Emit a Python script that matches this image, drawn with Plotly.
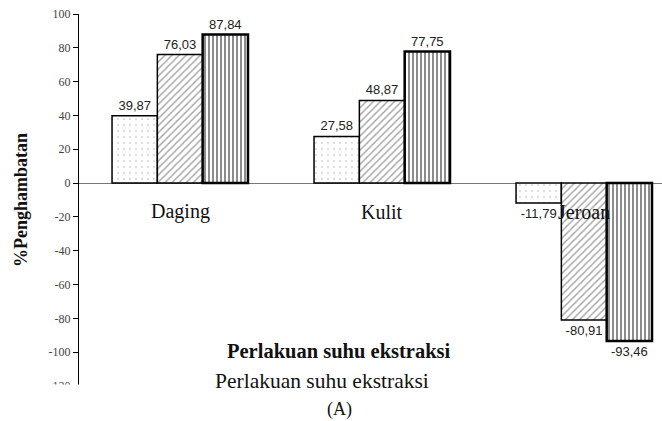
import plotly.graph_objects as go

categories = ["Daging", "Kulit", "Jeroan"]
series1 = [39.87, 27.58, -11.79]
series2 = [76.03, 48.87, -80.91]
series3 = [87.84, 77.75, -93.46]
y_ticks = [100, 80, 60, 40, 20, 0, -20, -40, -60, -80, -100, -120]
y_tick_text = ["100", "80", "60", "40", "20", "0", "-20", "-40", "-60", "-80", "-100", "-120"]

xpos = list(range(len(categories)))

def fmt(v):
    return f"{v:.2f}".replace(".", ",")

SERIF = "Liberation Serif, DejaVu Serif"

fig = go.Figure()
styles = [
    dict(shape=".", fgcolor="#a0a0a0", bgcolor="white", size=6, solidity=0.07, lw=1.5),
    dict(shape="/", fgcolor="#444444", bgcolor="white", size=5, solidity=0.28, lw=1.5),
    dict(shape="|", fgcolor="#000000", bgcolor="white", size=4, solidity=0.45, lw=2.5),
]
for vals, st in zip([series1, series2, series3], styles):
    fig.add_trace(go.Bar(
        x=xpos, y=vals,
        text=[fmt(v) for v in vals],
        textposition="outside",
        textfont=dict(family="Liberation Sans, Arial", size=13, color="#222222"),
        cliponaxis=False,
        marker=dict(color="white",
                    line=dict(color="black", width=st["lw"]),
                    pattern=dict(shape=st["shape"], fgcolor=st["fgcolor"], bgcolor=st["bgcolor"],
                                 size=st["size"], solidity=st["solidity"], fillmode="overlay")),
        showlegend=False,
    ))

# category labels near the zero line
for i, c in enumerate(categories):
    fig.add_annotation(x=xpos[i], y=-17, xref="x", yref="y", text=c, showarrow=False,
                       yanchor="middle", xanchor="center",
                       font=dict(family=SERIF, size=20, color="#111111"))

# white cover at bottom
fig.add_shape(type="rect", xref="paper", yref="paper", x0=-0.2, x1=1.1, y0=-0.2, y1=0.004,
              fillcolor="white", line=dict(width=0), layer="above")

fig.add_annotation(x=0.446, y=0.094, xref="paper", yref="paper", text="<b>Perlakuan suhu ekstraksi</b>",
                   showarrow=False, xanchor="center", yanchor="middle",
                   font=dict(family=SERIF, size=20.5, color="#111111"))
fig.add_annotation(x=0.417, y=0.0134, xref="paper", yref="paper", text="Perlakuan suhu ekstraksi",
                   showarrow=False, xanchor="center", yanchor="middle",
                   font=dict(family=SERIF, size=21.5, color="#111111"))
fig.add_annotation(x=0.446, y=-0.062, xref="paper", yref="paper", text="(A)",
                   showarrow=False, xanchor="center", yanchor="middle",
                   font=dict(family=SERIF, size=18, color="#111111"))

fig.update_layout(
    width=662, height=421,
    margin=dict(l=79, r=0, t=14, b=35, autoexpand=False),
    paper_bgcolor="white", plot_bgcolor="white",
    barmode="group", bargap=0.327, bargroupgap=0,
    xaxis=dict(range=[-0.5, 2.386], showticklabels=False, ticks="", showgrid=False,
               zeroline=False, showline=False, automargin=False),
    yaxis=dict(range=[-120, 100], tickvals=y_ticks, ticktext=y_tick_text, ticks="outside", ticklen=5,
               tickcolor="black", automargin=False,
               showline=True, linecolor="black", linewidth=1, showgrid=False,
               zeroline=True, zerolinecolor="#777777", zerolinewidth=1,
               tickfont=dict(family=SERIF, size=12, color="#444444"),
               title=dict(text="<b>%Penghambatan</b>", standoff=16,
                          font=dict(family=SERIF, size=18, color="#111111"))),
)

fig.write_html("out.html", config={"displayModeBar": False},
               post_script="document.body.style.margin='0px';document.body.style.overflow='hidden';")
